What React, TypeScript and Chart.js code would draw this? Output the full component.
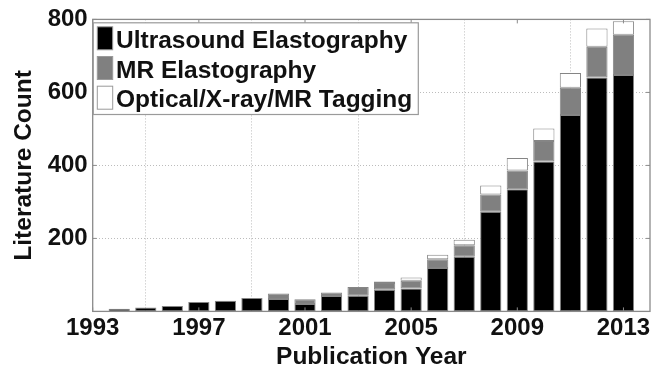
import React, { useEffect, useRef } from 'react';
import { Chart, registerables } from 'chart.js';

Chart.register(...registerables);

const YEARS = [1993, 1994, 1995, 1996, 1997, 1998, 1999, 2000, 2001, 2002, 2003, 2004, 2005, 2006, 2007, 2008, 2009, 2010, 2011, 2012, 2013];
const ULTRASOUND = [0, 7, 11, 15, 26, 29, 37, 34, 20, 42, 43, 59, 63, 119, 150, 273, 335, 411, 538, 641, 648];
const MR = [0, 0, 0, 0, 0, 0, 0, 15, 13, 10, 24, 19, 21, 24, 31, 47, 51, 56, 75, 84, 110];
const OPTICAL = [0, 0, 0, 0, 0, 0, 0, 0, 0, 0, 0, 4, 9, 12, 15, 25, 34, 34, 40, 50, 37];
const SERIES_LABELS = ['Ultrasound Elastography', 'MR Elastography', 'Optical/X-ray/MR Tagging'];
const X_TICKS = [1993, 1997, 2001, 2005, 2009, 2013];
const Y_TICKS = [200, 400, 600, 800];
const X_TITLE = 'Publication Year';
const Y_TITLE = 'Literature Count';

const FONT = "'Liberation Sans', Arial, Helvetica, sans-serif";
const TEXT = '#111111';
const FRAME = '#8a8a8a';
const GRID = '#bcbcbc';
const COLORS = ['#000000', '#808080', '#ffffff'];

const framePlugin = {
  id: 'matlabFrame',
  afterDraw(chart: any) {
    const { ctx, chartArea } = chart;
    const { left, right, top, bottom } = chartArea;
    ctx.save();
    ctx.strokeStyle = FRAME;
    ctx.lineWidth = 1.3;
    ctx.strokeRect(left, top, right - left, bottom - top);
    // inward tick marks
    const xs = chart.scales.x;
    const ys = chart.scales.y;
    ctx.lineWidth = 1;
    ctx.beginPath();
    X_TICKS.forEach((v) => {
      const px = xs.getPixelForValue(v);
      ctx.moveTo(px, bottom);
      ctx.lineTo(px, bottom - 4);
      ctx.moveTo(px, top);
      ctx.lineTo(px, top + 4);
    });
    Y_TICKS.forEach((v) => {
      const py = ys.getPixelForValue(v);
      ctx.moveTo(left, py);
      ctx.lineTo(left + 4, py);
      ctx.moveTo(right, py);
      ctx.lineTo(right - 4, py);
    });
    ctx.stroke();

    // legend box inside axes
    const bx = left + 0.6;
    const by = top + 3.4;
    const bw = 325;
    const bh = 91.7;
    ctx.fillStyle = '#ffffff';
    ctx.fillRect(bx, by, bw, bh);
    ctx.strokeStyle = '#9a9a9a';
    ctx.lineWidth = 1.2;
    ctx.strokeRect(bx, by, bw, bh);
    const datasets = chart.data.datasets;
    ctx.font = `bold 24.5px ${FONT}`;
    ctx.textBaseline = 'alphabetic';
    ctx.textAlign = 'left';
    datasets.forEach((ds: any, i: number) => {
      const rowTop = by + 4 + i * 29.7;
      ctx.fillStyle = ds.backgroundColor;
      ctx.fillRect(bx + 4, rowTop, 15.4, 23);
      ctx.strokeStyle = '#9a9a9a';
      ctx.lineWidth = 1;
      ctx.strokeRect(bx + 4, rowTop, 15.4, 23);
      ctx.fillStyle = TEXT;
      ctx.fillText(ds.label, bx + 22.7, rowTop + 21);
    });
    ctx.restore();
  },
};

export default function App() {
  const canvasRef = useRef<HTMLCanvasElement | null>(null);

  useEffect(() => {
    const canvas = canvasRef.current;
    if (!canvas) return;
    const series = [ULTRASOUND, MR, OPTICAL];
    const chart = new Chart(canvas, {
      type: 'bar',
      data: {
        datasets: series.map((vals, i) => ({
          label: SERIES_LABELS[i],
          data: YEARS.map((y, j) => ({ x: y, y: vals[j] })),
          backgroundColor: COLORS[i],
          borderColor: '#858585',
          borderWidth: 1,
          borderSkipped: false,
          barPercentage: 0.8,
          categoryPercentage: 1,
        })),
      },
      options: {
        responsive: false,
        animation: false,
        devicePixelRatio: 1,
        layout: { padding: { left: 0, right: 8, top: 16.6, bottom: 0 } },
        plugins: {
          legend: { display: false },
          tooltip: { enabled: false },
        },
        scales: {
          x: {
            type: 'linear',
            min: 1993,
            max: 2014,
            stacked: true,
            offset: false,
            afterBuildTicks: (s: any) => {
              s.ticks = X_TICKS.map((v) => ({ value: v }));
            },
            afterFit: (s: any) => {
              s.height = 63.6;
            },
            ticks: {
              autoSkip: false,
              maxRotation: 0,
              padding: 3,
              color: TEXT,
              font: { family: FONT, size: 24, weight: 'bold' },
              callback: (v: any) => String(v),
            },
            grid: { color: GRID, lineWidth: 1, drawTicks: false },
            border: { display: false, dash: [1, 2] },
            title: {
              display: true,
              text: X_TITLE,
              color: TEXT,
              font: { family: FONT, size: 24.5, weight: 'bold' },
              padding: { top: 0, bottom: 2.6 },
            },
          },
          y: {
            min: 0,
            max: 800,
            stacked: true,
            afterBuildTicks: (s: any) => {
              s.ticks = Y_TICKS.map((v) => ({ value: v }));
            },
            afterFit: (s: any) => {
              s.width = 92.7;
            },
            ticks: {
              padding: 5,
              color: TEXT,
              font: { family: FONT, size: 24, weight: 'bold' },
              callback: (v: any) => String(v),
            },
            grid: { color: GRID, lineWidth: 1, drawTicks: false },
            border: { display: false, dash: [1, 2] },
            title: {
              display: true,
              text: Y_TITLE,
              color: TEXT,
              font: { family: FONT, size: 24.5, weight: 'bold' },
              padding: { top: 9.6, bottom: 0 },
            },
          },
        },
      },
      plugins: [framePlugin],
    } as any);
    return () => chart.destroy();
  }, []);

  return (
    <div style={{ position: 'absolute', left: 0, top: 0, width: 658, height: 375, background: '#ffffff' }}>
      <canvas ref={canvasRef} width={658} height={375} style={{ display: 'block', width: 658, height: 375 }} />
    </div>
  );
}
